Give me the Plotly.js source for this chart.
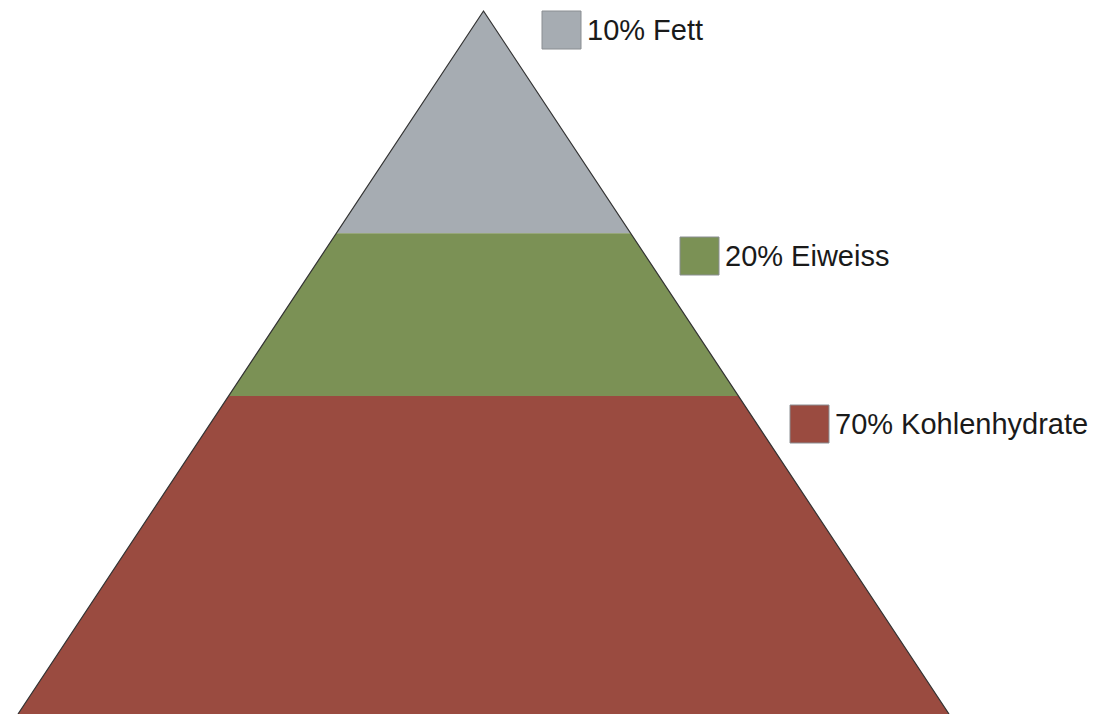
<!DOCTYPE html>
<html>
<head>
<meta charset="utf-8">
<script src="https://cdn.plot.ly/plotly-3.0.1.min.js"></script>
<style>
  html, body { margin: 0; padding: 0; background: #ffffff; }
  #chart { width: 1100px; height: 714px; }
</style>
</head>
<body>
<div id="chart"></div>
<script>
// Nutrient shares of the pyramid, top to bottom
const nutrients = ['Fett', 'Eiweiss', 'Kohlenhydrate'];
const shares = [10, 20, 70];
const labels = ['10% Fett', '20% Eiweiss', '70% Kohlenhydrate'];
const bandColors = ['#a6acb2', '#7b9155', '#9a4b40'];

// Page geometry (pixels)
const W = 1100, H = 714;
const apexPx = { x: 483.5, y: 11 };
const baseHalfPx = 465.5;           // half width of the base at the bottom edge
// Top-left corner of each key square, and its size
const keyPos = [{ x: 542, y: 11 }, { x: 680, y: 237 }, { x: 790, y: 405 }];
const keySize = { w: 39, h: 38 };
const keyGap = 4;

// Axes: x = half-widths from the apex (base = ±1), y = depth from the apex (base = 1)
const xRange = [-apexPx.x / baseHalfPx, (W - apexPx.x) / baseHalfPx];
const yRange = [1, -apexPx.y / (H - apexPx.y)];

// Each band's area equals its share: depth of a boundary = sqrt(cumulative share)
const total = shares.reduce((a, b) => a + b, 0);
const traces = [];
let cum = 0;
shares.forEach((s, i) => {
  const d0 = Math.sqrt(cum / total);
  cum += s;
  const d1 = Math.sqrt(cum / total);
  traces.push({
    type: 'scatter',
    mode: 'lines',
    name: nutrients[i],
    x: [-d0, d0, d1, -d1, -d0],
    y: [d0, d0, d1, d1, d0],
    fill: 'toself',
    fillcolor: bandColors[i],
    line: { width: 0, color: bandColors[i] },
    hoverinfo: 'name',
    showlegend: false
  });
});

// Slanted outline of the pyramid
traces.push({
  type: 'scatter',
  mode: 'lines',
  x: [-1, 0, 1],
  y: [1, 0, 1],
  line: { color: '#333333', width: 1.2 },
  hoverinfo: 'skip',
  showlegend: false
});

const px2x = p => p / W;
const px2y = p => 1 - p / H;

const shapes = keyPos.map((k, i) => ({
  type: 'rect',
  xref: 'paper', yref: 'paper',
  x0: px2x(k.x), x1: px2x(k.x + keySize.w),
  y0: px2y(k.y + keySize.h), y1: px2y(k.y),
  fillcolor: bandColors[i],
  line: { color: '#8a8e92', width: 1 }
}));

const annotations = keyPos.map((k, i) => ({
  xref: 'paper', yref: 'paper',
  x: px2x(k.x + keySize.w + keyGap),
  y: px2y(k.y + keySize.h / 2),
  xanchor: 'left', yanchor: 'middle',
  text: labels[i],
  showarrow: false,
  font: { family: 'Liberation Sans, Arial, sans-serif', size: 29, color: '#1a1a1a' }
}));

const layout = {
  width: W, height: H,
  margin: { l: 0, r: 0, t: 0, b: 0, pad: 0 },
  paper_bgcolor: '#ffffff',
  plot_bgcolor: '#ffffff',
  xaxis: { range: xRange, visible: false, fixedrange: true },
  yaxis: { range: yRange, visible: false, fixedrange: true },
  shapes: shapes,
  annotations: annotations,
  showlegend: false
};

Plotly.newPlot('chart', traces, layout, { displayModeBar: false, staticPlot: true });
</script>
</body>
</html>
